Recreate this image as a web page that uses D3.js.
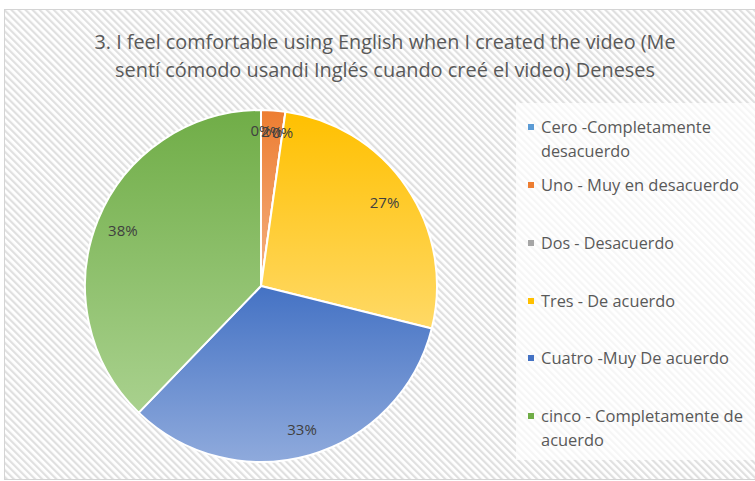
<!DOCTYPE html>
<html>
<head>
<meta charset="utf-8">
<script src="https://cdn.jsdelivr.net/npm/d3@7"></script>
<style>
  html, body { margin: 0; padding: 0; background: #fff; }
  svg { display: block; }
</style>
</head>
<body>
<svg id="chart" width="755" height="481"></svg>
<script>
// Survey answers for question 3 (number of respondents per option)
const categories = [
  "Cero -Completamente desacuerdo",
  "Uno - Muy en desacuerdo",
  "Dos - Desacuerdo",
  "Tres - De acuerdo",
  "Cuatro -Muy De acuerdo",
  "cinco - Completamente de acuerdo"
];
const counts = [0, 1, 0, 12, 15, 17];

// Legend text, wrapped the way it is laid out in the legend box
const legendLines = [
  ["Cero -Completamente", "desacuerdo"],
  ["Uno - Muy en desacuerdo"],
  ["Dos - Desacuerdo"],
  ["Tres - De acuerdo"],
  ["Cuatro -Muy De acuerdo"],
  ["cinco - Completamente de", "acuerdo"]
];

const titleLines = [
  "3.  I feel comfortable using English when I created the video (Me",
  "sentí cómodo usandi Inglés cuando creé el video) Deneses"
];

// Office palette: darker tone at the top of each slice, lighter at the bottom
const topColors    = ["#5b9bd5", "#ed7d31", "#a5a5a5", "#ffc000", "#4472c4", "#70ad47"];
const bottomColors = ["#9dc3e6", "#f4b183", "#c9c9c9", "#ffd966", "#8faadc", "#a9d18e"];

const svg = d3.select("#chart");
const defs = svg.append("defs");

// Diagonal hatch used as the chart area fill
const hatch = defs.append("pattern")
  .attr("id", "hatch")
  .attr("patternUnits", "userSpaceOnUse")
  .attr("width", 5).attr("height", 5)
  .attr("patternTransform", "rotate(-45)");
hatch.append("rect").attr("width", 5).attr("height", 5).attr("fill", "#ffffff");
hatch.append("rect").attr("width", 2.2).attr("height", 5).attr("fill", "#e0e0e0");

categories.forEach((c, i) => {
  const g = defs.append("linearGradient")
    .attr("id", "grad" + i)
    .attr("x1", 0).attr("y1", 0).attr("x2", 0).attr("y2", 1);
  g.append("stop").attr("offset", "0%").attr("stop-color", topColors[i]);
  g.append("stop").attr("offset", "100%").attr("stop-color", bottomColors[i]);
});

// Chart area
svg.append("rect")
  .attr("x", 4.5).attr("y", 9.5)
  .attr("width", 755).attr("height", 470)
  .attr("fill", "url(#hatch)")
  .attr("stroke", "#d4d4d4")
  .attr("stroke-width", 1);

const font = "'Open Sans', 'Noto Sans', sans-serif";

// Title
const titleWidths = [581, 540];
svg.append("g").selectAll("text")
  .data(titleLines)
  .join("text")
  .attr("x", 385)
  .attr("y", (d, i) => 49 + i * 28)
  .attr("text-anchor", "middle")
  .attr("font-family", font)
  .attr("font-size", 20)
  .attr("fill", "#595959")
  .attr("textLength", (d, i) => titleWidths[i])
  .attr("lengthAdjust", "spacingAndGlyphs")
  .text(d => d);

// Pie
const cx = 261, cy = 286, radius = 176;
const pie = d3.pie().sort(null).value(d => d);
const arcs = pie(counts);
const arc = d3.arc().innerRadius(0).outerRadius(radius);
const total = d3.sum(counts);

const gPie = svg.append("g").attr("transform", `translate(${cx},${cy})`);
gPie.selectAll("path.slice")
  .data(arcs)
  .join("path")
  .attr("class", "slice")
  .attr("d", arc)
  .attr("fill", (d, i) => `url(#grad${i})`)
  .attr("stroke", "#ffffff")
  .attr("stroke-width", 2)
  .attr("stroke-linejoin", "round");

// Percentage labels
function labelRadius(d) {
  return d.data / total < 0.05 ? 155 : 149;
}
gPie.selectAll("text.pct")
  .data(arcs)
  .join("text")
  .attr("class", "pct")
  .attr("transform", d => {
    const a = (d.startAngle + d.endAngle) / 2;
    const r = labelRadius(d);
    return `translate(${Math.sin(a) * r},${-Math.cos(a) * r})`;
  })
  .attr("text-anchor", "middle")
  .attr("dy", "0.36em")
  .attr("font-family", font)
  .attr("font-size", 15)
  .attr("fill", "#404040")
  .text(d => Math.round(d.data / total * 100) + "%");

// Legend
svg.append("rect")
  .attr("x", 516).attr("y", 103)
  .attr("width", 245).attr("height", 357)
  .attr("fill", "#ffffff")
  .attr("fill-opacity", 0.7);

const legendY = [127, 185, 243, 301, 358, 416];
const legendWidths = [[170, 89], [198], [133], [134], [188], [202, 63]];
const legend = svg.append("g").selectAll("g")
  .data(categories)
  .join("g")
  .attr("transform", (d, i) => `translate(528,${legendY[i]})`);

legend.append("rect")
  .attr("x", 0).attr("y", -3)
  .attr("width", 6).attr("height", 6)
  .attr("fill", (d, i) => topColors[i]);

legend.append("text")
  .attr("font-family", font)
  .attr("font-size", 15.5)
  .attr("fill", "#595959")
  .selectAll("tspan")
  .data((d, i) => legendLines[i].map((t, j) => ({ t, w: legendWidths[i][j] })))
  .join("tspan")
  .attr("x", 13)
  .attr("y", (d, j) => j * 24)
  .attr("dy", "0.36em")
  .attr("textLength", d => d.w)
  .attr("lengthAdjust", "spacingAndGlyphs")
  .text(d => d.t);
</script>
</body>
</html>
